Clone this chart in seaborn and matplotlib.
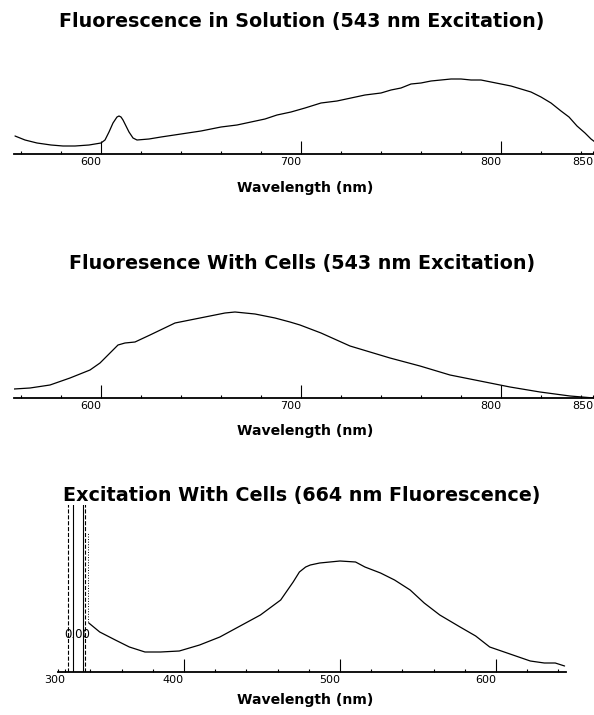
import matplotlib
matplotlib.use("Agg")
import matplotlib.pyplot as plt
import seaborn as sns
import pandas as pd
from matplotlib.ticker import FixedLocator

# ---------------- data (arbitrary intensity units) ----------------
sol_wl = [557, 562, 568, 575, 581, 587, 594, 600, 602, 604, 606, 608, 609, 610, 611, 612, 614, 616, 618,
          624, 630, 640, 650, 660, 668, 675, 682, 688, 695, 702, 710, 718, 725, 732, 740, 745, 750, 755,
          760, 765, 770, 775, 780, 785, 790, 795, 800, 805, 810, 815, 820, 825, 830, 834, 838, 842, 845, 847]
sol_int = [18, 14, 11, 9, 8, 8, 9, 11, 14, 22, 31, 37, 38, 37, 34, 30, 22, 16, 14,
           15, 17, 20, 23, 27, 29, 32, 35, 39, 42, 46, 51, 53, 56, 59, 61, 64, 66, 70,
           71, 73, 74, 75, 75, 74, 74, 72, 70, 68, 65, 62, 57, 51, 43, 37, 28, 21, 15, 12]

cell_wl = [556.5, 564.5, 574.5, 584.5, 594.5, 599.5, 604.5, 608.5, 612, 617, 624.5, 637, 649.5, 662, 667,
           677, 687, 694.5, 699.5, 710, 724.5, 734.5, 744.5, 759.5, 774.5, 789.5, 804.5, 819.5, 834.5, 846.5]
cell_int = [9, 10, 13, 20, 28, 35, 45, 53, 55, 56, 63, 75, 80, 85, 86,
            84, 80, 76, 73, 65, 52, 46, 40, 32, 23, 17, 11, 6, 2, 0]

exc_wl = [339, 346, 356, 365, 375, 385, 397, 410, 423, 436, 449, 462, 470, 474, 478, 481, 487, 500,
          510, 516, 526, 535, 545, 554, 564, 577, 587, 596, 609, 622, 631, 638, 644]
exc_int = [49, 40, 32, 25, 20, 20, 21, 27, 35, 46, 57, 72, 90, 100, 105, 107, 109, 111,
           110, 105, 99, 92, 82, 69, 57, 45, 36, 25, 18, 11, 9, 9, 6]

spike_wl = [325.6, 328.8, 335.3, 336.5]
spike_styles = ["--", "-", "-", "--"]

titles = ["Fluorescence in Solution (543 nm Excitation)",
          "Fluoresence With Cells (543 nm Excitation)",
          "Excitation With Cells (664 nm Fluorescence)"]
xlabel = "Wavelength (nm)"

em_major = [600, 700, 800, 846]
em_major_labels = ["600", "700", "800", "850"]
em_minor = [560, 580, 620, 640, 660, 680, 720, 740, 760, 780, 820, 840]
ex_major = [323.7, 400, 500, 600]
ex_major_labels = ["300", "400", "500", "600"]
ex_minor = [319, 340, 360, 380, 420, 440, 460, 480, 520, 540, 560, 580, 620, 640]

# ---------------- figure ----------------
sns.set_style("white")
plt.rcParams["font.family"] = ["DejaVu Sans"]
plt.rcParams["text.color"] = "black"
plt.rcParams["xtick.color"] = "black"
W, H = 594, 715
fig = plt.figure(figsize=(W / 100, H / 100), dpi=100)


def ax_px(left, top, right, bottom):
    return fig.add_axes([left / W, 1 - bottom / H, (right - left) / W, (bottom - top) / H])


def style(ax, major, labels, minor, xlim, ylim, spine_lo=None):
    ax.set_xlim(*xlim)
    ax.set_ylim(*ylim)
    for s in ["top", "right", "left"]:
        ax.spines[s].set_visible(False)
    ax.spines["bottom"].set_linewidth(1.3)
    ax.spines["bottom"].set_color("black")
    if spine_lo is not None:
        ax.spines["bottom"].set_bounds(spine_lo, xlim[1])
    ax.set_yticks([])
    ax.set_ylabel("")
    ax.set_xlabel("")
    ax.xaxis.set_major_locator(FixedLocator(major))
    ax.set_xticklabels(labels, fontsize=8, color="black")
    ax.xaxis.set_minor_locator(FixedLocator(minor))
    ax.tick_params(axis="x", which="major", direction="in", length=9.5, width=0.8,
                   pad=2, bottom=True, colors="black")
    ax.tick_params(axis="x", which="minor", direction="in", length=2.5, width=0.8, bottom=True)
    for t in ax.xaxis.get_major_ticks():
        t.label1.set_horizontalalignment("right")
    return ax


def curve(ax, wl, val):
    df = pd.DataFrame({"wl": wl, "val": val})
    sns.lineplot(data=df, x="wl", y="val", ax=ax, color="black", linewidth=0.9,
                 estimator=None, sort=False)


# panel 1
ax1 = ax_px(14, 60, 594, 154)
curve(ax1, sol_wl, sol_int)
style(ax1, em_major, em_major_labels, em_minor, (556.5, 846.5), (0, 94))
ax1.xaxis.get_major_ticks()[-1].tick1line.set_markersize(2.5)

# panel 2
ax2 = ax_px(14, 300, 594, 398)
curve(ax2, cell_wl, cell_int)
style(ax2, em_major, em_major_labels, em_minor, (556.5, 846.5), (0, 98))
ax2.xaxis.get_major_ticks()[-1].tick1line.set_markersize(2.5)

# panel 3
ax3 = ax_px(47, 505, 566, 672)
curve(ax3, exc_wl, exc_int)
for w, ls in zip(spike_wl, spike_styles):
    ax3.vlines(w, 0, 170, color="black", linewidth=0.8, linestyles=ls)
ax3.vlines(338.5, 50, 140, color="black", linewidth=0.7, linestyles=":")
ax3.text(331.4, 37, "0.00", fontsize=8.5, ha="center", va="center", color="black")
style(ax3, ex_major, ex_major_labels, ex_minor, (312.2, 644.9), (0, 167), spine_lo=319)
ax3.xaxis.get_major_ticks()[0].tick1line.set_markersize(2.5)

# titles and axis labels
for y, t in zip([22, 263, 495], titles):
    fig.text(302 / W, 1 - y / H, t, ha="center", va="center", fontsize=13.8,
             fontweight="bold", color="black")
for y in [188, 431, 700]:
    fig.text(305 / W, 1 - y / H, xlabel, ha="center", va="center", fontsize=10.1,
             fontweight="bold", color="black")

fig.savefig("out.png", dpi=100, facecolor="white")
